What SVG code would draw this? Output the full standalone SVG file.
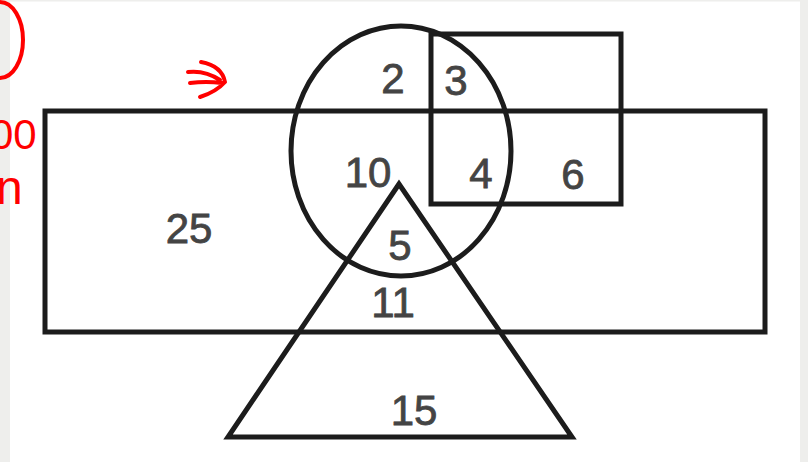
<svg xmlns="http://www.w3.org/2000/svg" width="808" height="462" viewBox="0 0 808 462">
<style>
.s{fill:none;stroke:#1c1c1c;stroke-width:5;stroke-linejoin:miter}
.t{font-family:"Liberation Sans",Arial,sans-serif;font-size:42px;fill:#444444;text-anchor:middle;stroke:#444444;stroke-width:0.8}
.r{fill:none;stroke:#ff0000;stroke-width:4;stroke-linecap:round;stroke-linejoin:round}
.rt{font-family:"Liberation Sans",Arial,sans-serif;fill:#ff0000}
</style>
<rect x="0" y="0" width="808" height="462" fill="#ffffff"/>
<rect x="0" y="0" width="10" height="462" fill="#eeeeec"/>
<rect x="800" y="0" width="8" height="462" fill="#eeeeec"/>
<rect x="0" y="0" width="808" height="1.5" fill="#eeeeec"/>
<g id="annotations">
<ellipse class="r" cx="0" cy="40" rx="23" ry="38"/>
<path class="r" d="M188 72 Q205 70 220 80 M190 83 Q206 81 222 83 M201 62 Q222 66 225 82 Q216 92 200 97"/>
<text class="rt" x="-10" y="149" style="font-size:42px">00</text>
<text class="rt" x="-4" y="204" style="font-size:48px">n</text>
</g>
<g id="rectangle-big"><rect class="s" x="45" y="111" width="720" height="221"/></g>
<g id="rectangle-small"><rect class="s" x="431" y="34" width="190" height="170"/></g>
<g id="circle"><ellipse class="s" cx="401" cy="151" rx="110" ry="125"/></g>
<g id="triangle"><polygon class="s" points="399,184 228,437 572,437"/></g>
<g id="labels">
<text class="t" x="393" y="93">2</text>
<text class="t" x="456" y="95">3</text>
<text class="t" x="368" y="187">10</text>
<text class="t" x="481" y="188">4</text>
<text class="t" x="573" y="189">6</text>
<text class="t" x="189" y="243">25</text>
<text class="t" x="400" y="260">5</text>
<text class="t" x="393" y="317">11</text>
<text class="t" x="414" y="425">15</text>
</g>
</svg>
